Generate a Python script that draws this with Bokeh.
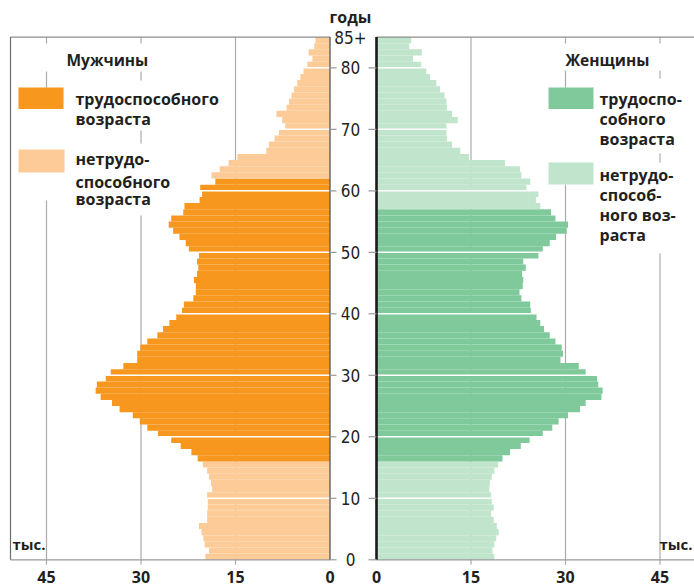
from bokeh.plotting import figure
from bokeh.models import Range1d, ColumnDataSource
from bokeh.embed import file_html
from bokeh.resources import INLINE
from bokeh.core.properties import value

# ---------------- data (thousand people by single year of age) ----------------
AGES = list(range(85))  # 0 .. 84 (the last bar is "85+")
MALES = [19.8, 19.2, 19.9, 20.1, 20.4, 20.8, 19.5, 19.5, 19.4, 19.4,
         19.5, 18.7, 18.9, 19.2, 19.5, 20.2, 21.0, 22.0, 23.7, 25.2,
         27.3, 29.0, 30.2, 31.3, 33.4, 34.6, 36.4, 37.2, 37.0, 35.6,
         34.8, 32.8, 30.6, 30.6, 30.1, 29.0, 27.4, 26.5, 25.5, 24.4,
         23.5, 23.2, 21.7, 21.3, 21.3, 21.6, 21.1, 20.9, 21.1, 20.8,
         22.4, 22.9, 23.9, 24.9, 25.6, 25.2, 23.3, 23.1, 20.7, 20.3,
         20.6, 18.2, 18.8, 17.5, 16.1, 14.7, 10.1, 9.7, 8.8, 8.1,
         7.1, 7.6, 8.5, 6.9, 6.5, 6.1, 5.7, 5.2, 4.7, 4.2,
         3.6, 2.8, 3.4, 2.5, 2.3]
FEMALES = [18.7, 18.4, 18.7, 19.0, 19.4, 19.1, 18.6, 18.2, 18.6, 18.3,
           18.2, 17.9, 18.0, 18.3, 18.7, 19.3, 20.0, 21.2, 22.9, 24.3,
           26.4, 27.9, 28.9, 30.4, 32.3, 33.2, 35.7, 35.9, 35.2, 35.0,
           33.2, 32.1, 29.2, 29.6, 29.4, 28.4, 27.5, 26.6, 26.0, 25.4,
           24.5, 24.4, 23.0, 22.7, 23.2, 23.3, 23.1, 23.7, 23.3, 25.7,
           26.4, 27.5, 28.5, 30.2, 30.4, 28.4, 27.7, 26.0, 25.3, 25.7,
           23.8, 24.4, 23.0, 22.8, 20.4, 14.7, 13.3, 12.0, 11.2, 11.1,
           11.1, 12.9, 12.0, 11.2, 11.1, 10.8, 10.1, 9.5, 8.5, 7.9,
           7.1, 5.8, 7.2, 5.2, 5.5]
MALE_WORKING = (16, 61)     # working-age years (inclusive)
FEMALE_WORKING = (16, 56)
VALUE_TICKS = [0, 15, 30, 45]
AGE_TICKS = [0, 10, 20, 30, 40, 50, 60, 70, 80, 85]
AGE_LABELS = ["0", "10", "20", "30", "40", "50", "60", "70", "80", "85+"]
AGE_MAX = 85

# ---------------- style ----------------
M_DARK, M_LIGHT = "#F7971E", "#FDCB98"
F_DARK, F_LIGHT = "#7FC99B", "#C1E4CC"
TEXT = "#231F20"
GRID_C = "#ABABAB"
FONT = "Open Sans"
NARROW = "Liberation Sans Narrow, DejaVu Sans Condensed, Roboto"

# ---------------- layout (page pixels -> data units) ----------------
W, H = 694, 587
M0, F0, Y0 = 329.5, 376.0, 559.3   # screen positions of male zero, female zero, age zero
PX, PY = 6.3, 6.15                 # px per thousand, px per year
TEXT_SHIFT = 5.5                   # baseline correction of the text glyph (px)


def mx(px):
    return (M0 - px) / PX


def fx(px):
    return (px - F0) / PX


def yy(py):
    return (Y0 - py) / PY


p = figure(width=W, height=H, x_range=Range1d(mx(0), mx(W)), y_range=Range1d(yy(H), yy(0)),
           output_backend="svg", toolbar_location=None,
           x_axis_location=None, y_axis_location=None, min_border=0,
           background_fill_color="white", border_fill_color="white")
p.extra_x_ranges = {"f": Range1d(fx(0), fx(W))}
p.outline_line_color = None
p.xgrid.visible = False
p.ygrid.visible = False

M_EDGE = mx(10)     # left border of the male panel
F_EDGE = fx(W)      # right edge of the female panel
GRID_BOTTOM = yy(Y0 + 5)

# vertical gridlines (extend a little below the bottom axis as ticks)
gt = VALUE_TICKS[1:]
p.segment(x0=gt, x1=gt, y0=GRID_BOTTOM, y1=AGE_MAX, line_color=GRID_C, line_width=1.2)
p.segment(x0=gt, x1=gt, y0=GRID_BOTTOM, y1=AGE_MAX, line_color=GRID_C, line_width=1.2,
          x_range_name="f")

# legend background boxes (hide gridlines behind the legend)
m_boxes = [(14, 160, 43, 71), (70, 228, 80, 130), (70, 228, 143, 215), (14, 68, 87, 200)]
f_boxes = [(548, 672, 43, 70), (595, 694, 78, 153), (595, 694, 162, 253), (545, 596, 87, 184)]
p.quad(left=[mx(b[0]) for b in m_boxes], right=[mx(b[1]) for b in m_boxes],
       top=[yy(b[2]) for b in m_boxes], bottom=[yy(b[3]) for b in m_boxes],
       fill_color="white", line_color=None)
p.quad(left=[fx(b[0]) for b in f_boxes], right=[fx(b[1]) for b in f_boxes],
       top=[yy(b[2]) for b in f_boxes], bottom=[yy(b[3]) for b in f_boxes],
       fill_color="white", line_color=None, x_range_name="f")

# bars
m_colors = [M_DARK if MALE_WORKING[0] <= a <= MALE_WORKING[1] else M_LIGHT for a in AGES]
f_colors = [F_DARK if FEMALE_WORKING[0] <= a <= FEMALE_WORKING[1] else F_LIGHT for a in AGES]
src_m = ColumnDataSource(dict(y=[a + 0.5 for a in AGES], v=MALES, c=m_colors))
src_f = ColumnDataSource(dict(y=[a + 0.5 for a in AGES], v=FEMALES, c=f_colors))
p.hbar(y="y", left="v", right=0, height=1, fill_color="c", line_color=None, source=src_m)
p.hbar(y="y", left=0, right="v", height=1, fill_color="c", line_color=None, source=src_f,
       x_range_name="f")

# white decade lines across the bars
dec_in = AGE_TICKS[1:-1]
p.segment(x0=0, x1=[max(MALES[t - 1], MALES[t]) for t in dec_in], y0=dec_in, y1=dec_in,
          line_color="white", line_width=1.6)
p.segment(x0=0, x1=[max(FEMALES[t - 1], FEMALES[t]) for t in dec_in], y0=dec_in, y1=dec_in,
          line_color="white", line_width=1.6, x_range_name="f")

# panel frame lines
p.segment(x0=[0, 0, M_EDGE], x1=[M_EDGE, M_EDGE, M_EDGE], y0=[AGE_MAX, 0, 0],
          y1=[AGE_MAX, 0, AGE_MAX], line_color=["#8C8C8C", "#9A9A9A", "#6E6E6E"], line_width=1.2)
p.segment(x0=[0, 0], x1=[F_EDGE, F_EDGE], y0=[AGE_MAX, 0], y1=[AGE_MAX, 0],
          line_color=["#8C8C8C", "#9A9A9A"], line_width=1.2, x_range_name="f")
p.segment(x0=0, x1=0, y0=0, y1=AGE_MAX, line_color="#555555", line_width=1.3)
p.segment(x0=0, x1=0, y0=0, y1=AGE_MAX, line_color="#1A1A1A", line_width=2.6, x_range_name="f")

# age ticks
dec = AGE_TICKS[:-1]
p.segment(x0=0, x1=mx(336), y0=dec, y1=dec, line_color="#9A9A9A", line_width=1.2)
p.segment(x0=fx(368), x1=0, y0=dec, y1=dec, line_color="#9A9A9A", line_width=1.2,
          x_range_name="f")

# age labels (between the panels)
p.text(x=[mx(350)] * len(AGE_TICKS), y=AGE_TICKS, text=AGE_LABELS, text_align="center",
       text_baseline="middle", text_font=value(NARROW), text_font_size=value("17px"),
       text_color=TEXT)


def txt(x, py, text, size="16px", align="left", rn="default"):
    """Bold text whose baseline sits at page row py."""
    p.text(x=[x], y=[yy(py - TEXT_SHIFT)], text=[text], text_align=align,
           text_baseline="alphabetic", text_font=value(FONT), text_font_style="bold",
           text_font_size=value(size), text_color=TEXT, x_range_name=rn)


txt(mx(350), 21.5, "годы", align="center")

# value labels under the panels
for v in VALUE_TICKS:
    txt(v, 582, str(v), align="center")
    txt(v, 582, str(v), align="center", rn="f")

txt(mx(12), 549.3, "тыс.", size="15px")
txt(fx(692), 549.3, "тыс.", size="15px", align="right", rn="f")

# legend patches
p.quad(left=[mx(18), mx(18)], right=[mx(63), mx(64)], top=[yy(87), yy(149)],
       bottom=[yy(108.5), yy(172)], fill_color=[M_DARK, M_LIGHT], line_color=None)
p.quad(left=[fx(548), fx(548)], right=[fx(593), fx(593)], top=[yy(87), yy(162)],
       bottom=[yy(108.5), yy(184)], fill_color=[F_DARK, F_LIGHT], line_color=None,
       x_range_name="f")

txt(mx(66), 65, "Мужчины", size="15.5px")
for t, py in [("трудоспособного", 104), ("возраста", 124), ("нетрудо-", 163.5),
              ("способного", 186.7), ("возраста", 204)]:
    txt(mx(75), py, t)

txt(fx(565), 65, "Женщины", size="15.5px", rn="f")
for t, py in [("трудоспо-", 104), ("собного", 124), ("возраста", 144.3), ("нетрудо-", 180),
              ("способ-", 200), ("ного воз-", 220), ("раста", 240)]:
    txt(fx(599), py, t, rn="f")

open("out.html", "w").write(file_html(p, INLINE))
